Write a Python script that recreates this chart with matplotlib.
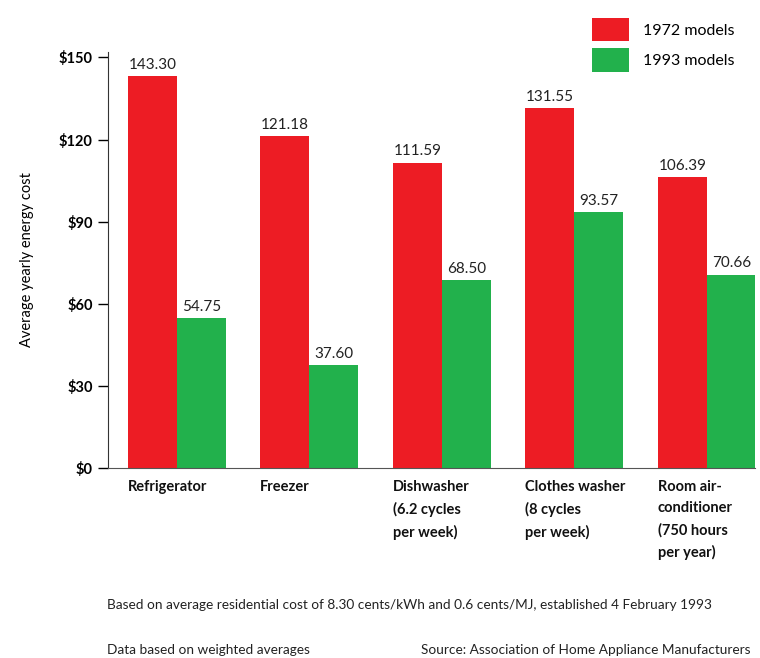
import matplotlib
matplotlib.use("Agg")
from matplotlib import pyplot as plt
import numpy as np

categories = ["Refrigerator", "Freezer", "Dishwasher\n(6.2 cycles\nper week)",
              "Clothes washer\n(8 cycles\nper week)", "Room air-\nconditioner\n(750 hours\nper year)"]
models_1972 = [143.30, 121.18, 111.59, 131.55, 106.39]
models_1993 = [54.75, 37.60, 68.50, 93.57, 70.66]
yticks = [0, 30, 60, 90, 120, 150]
ytick_labels = ["$0", "$30", "$60", "$90", "$120", "$150"]

red = "#ED1C24"
green = "#22B14C"

plt.rcParams["font.family"] = ["Lato", "DejaVu Sans"]

fig = plt.figure(figsize=(7.6, 6.58), dpi=100)
ax = fig.add_axes([0.142, 0.289, 0.851, 0.632])

x = np.arange(len(categories))
w = 0.37
b1 = ax.bar(x - w / 2, models_1972, w, color=red, label="1972 models")
b2 = ax.bar(x + w / 2, models_1993, w, color=green, label="1993 models")

for bars, vals in [(b1, models_1972), (b2, models_1993)]:
    for rect, v in zip(bars, vals):
        ax.annotate("%.2f" % v, (rect.get_x() + rect.get_width() / 2, v),
                    xytext=(0, 3), textcoords="offset points",
                    ha="center", va="bottom", fontsize=11, color="#222222")

for i, cat in enumerate(categories):
    ax.annotate(cat, (x[i] - w, 0), xycoords=("data", "axes fraction"),
                xytext=(0, -9), textcoords="offset points",
                ha="left", va="top", fontsize=10.5, fontweight="bold",
                linespacing=1.65, color="#111111")

ax.set_xlim(-0.52, 4.36)
ax.set_ylim(0, 152)
ax.set_xticks([])
ax.set_yticks(yticks)
ax.set_yticklabels(ytick_labels, fontweight="bold", fontsize=10.5)
ax.tick_params(axis="y", direction="out", length=7, width=1, pad=4)

ax.spines["top"].set_visible(False)
ax.spines["right"].set_visible(False)
ax.spines["left"].set_color("#333333")
ax.spines["bottom"].set_color("#555555")
ax.spines["bottom"].set_linewidth(0.8)

ax.set_ylabel("Average yearly energy cost", fontsize=10.5, labelpad=18)

fig.legend(handles=[b1, b2], loc="upper left", bbox_to_anchor=(0.76, 0.995),
           frameon=False, fontsize=11.5, handlelength=2.3, handleheight=1.9,
           labelspacing=0.45, handletextpad=0.9)

fig.text(0.141, 0.08, "Based on average residential cost of 8.30 cents/kWh and 0.6 cents/MJ, established 4 February 1993",
         fontsize=9.8, va="center", ha="left", color="#222222")
fig.text(0.141, 0.012, "Data based on weighted averages",
         fontsize=9.8, va="center", ha="left", color="#222222")
fig.text(0.987, 0.012, "Source: Association of Home Appliance Manufacturers",
         fontsize=9.8, va="center", ha="right", color="#222222")

plt.savefig("out.png", dpi=100)
